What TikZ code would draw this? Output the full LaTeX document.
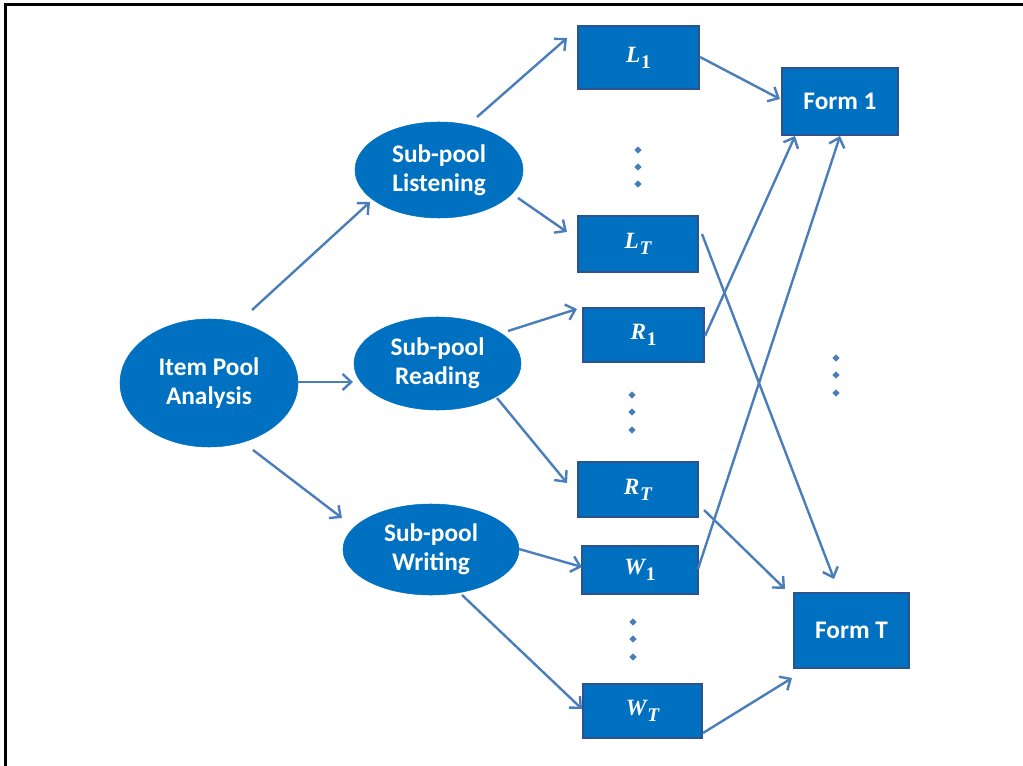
\documentclass[tikz,border=0pt]{standalone}
\usepackage{fontspec}
\setmainfont{Carlito}
\newfontfamily\lblfont{Liberation Serif}
\usetikzlibrary{arrows.meta,calc,shapes.geometric}
\definecolor{nodeblue}{HTML}{0070C0}
\definecolor{boxedge}{HTML}{2F528F}
\definecolor{arrowblue}{HTML}{4A7EBB}
\newcommand{\itemlbl}[2]{\raisebox{-2pt}{{\lblfont\bfseries\itshape\fontsize{17.5}{19}\selectfont #1}\kern0.5pt\raisebox{-4.7pt}{\lblfont\bfseries\fontsize{14.5}{16}\selectfont #2}}}
\begin{document}
\begin{tikzpicture}[x=0.75pt,y=-0.75pt,
  ell/.style={ellipse, fill=nodeblue, draw=nodeblue, line width=0.4pt, inner sep=0pt, text=white,
    align=center, font=\fontsize{19}{22}\selectfont\bfseries},
  box/.style={rectangle, fill=nodeblue, draw=boxedge, line width=0.9pt, inner sep=0pt, text=white,
    align=center, font=\fontsize{19}{22}\selectfont\bfseries},
  mbox/.style={box},
  arr/.style={draw=arrowblue, line width=1.8pt, -{Straight Barb[length=6.5pt,width=12pt]}},
  dotmark/.style={diamond, fill=arrowblue, inner sep=0pt, minimum size=5.5pt}]
\useasboundingbox (0,0) rectangle (1023,766);
\draw[line width=2.25pt] (5,766) -- (5,5) -- (1023,5);

% ellipses
\node[ell, minimum width=133.5pt, minimum height=96pt] (item) at (209,383) {Item Pool\\Analysis};
\node[ell, minimum width=126pt, minimum height=72pt] (listen) at (439,170) {Sub-pool\\Listening};
\node[ell, minimum width=125.25pt, minimum height=69.75pt] (read) at (437.5,363.5) {Sub-pool\\Reading};
\node[ell, minimum width=132pt, minimum height=68.25pt] (write) at (431,549.5) {Sub-pool\\Writing};

% item boxes
\node[mbox, minimum width=90.75pt, minimum height=47.25pt] (L1) at (638.5,57.5) {\itemlbl{L}{1}};
\node[mbox, minimum width=90pt, minimum height=42pt] (LT) at (638,244) {\itemlbl{L}{\itshape T}};
\node[mbox, minimum width=90.75pt, minimum height=40.5pt] (R1) at (643.5,335) {\itemlbl{R}{1}};
\node[mbox, minimum width=90pt, minimum height=41.25pt] (RT) at (638,489.5) {\itemlbl{R}{\itshape T}};
\node[mbox, minimum width=87pt, minimum height=36pt] (W1) at (640,570) {\itemlbl{W}{1}};
\node[mbox, minimum width=89.25pt, minimum height=40.5pt] (WT) at (642.5,711) {\itemlbl{W}{\itshape T}};

% forms
\node[box, minimum width=87pt, minimum height=50.25pt] (F1) at (840,101.5) {Form 1};
\node[box, minimum width=86.25pt, minimum height=56.25pt] (FT) at (851.5,630.5) {Form T};

% dots
\node[dotmark] (dl1) at (638,150) {};
\node[dotmark] (dl2) at (638,167) {};
\node[dotmark] (dl3) at (638,184) {};
\node[dotmark] (dr1) at (632,395) {};
\node[dotmark] (dr2) at (632,412) {};
\node[dotmark] (dr3) at (632,430) {};
\node[dotmark] (dw1) at (633,622) {};
\node[dotmark] (dw2) at (633,639) {};
\node[dotmark] (dw3) at (633,657) {};
\node[dotmark] (df1) at (836,358) {};
\node[dotmark] (df2) at (836,375) {};
\node[dotmark] (df3) at (836,393) {};

% connectors
\draw[arr] ($(item)+(43,-73)$) -- ($(listen)+(-69,32)$);
\draw[arr] ($(item)+(88,-1)$) -- ($(read)+(-84.5,18.5)$);
\draw[arr] ($(item)+(44,67)$) -- ($(write)+(-89,-31.5)$);
\draw[arr] ($(listen)+(38,-53)$) -- ($(L1)+(-71.5,-19.5)$);
\draw[arr] ($(listen)+(79,28)$) -- ($(LT)+(-71,-12)$);
\draw[arr] ($(read)+(70.5,-32.5)$) -- ($(R1)+(-66.5,-26)$);
\draw[arr] ($(read)+(59.5,34.5)$) -- ($(RT)+(-71,-6.5)$);
\draw[arr] ($(write)+(88,-0.5)$) -- ($(W1)+(-58,-3)$);
\draw[arr] ($(write)+(31,45.5)$) -- ($(WT)+(-60.5,-2)$);
\draw[arr] ($(L1)+(61.5,-0.5)$) -- ($(F1)+(-60,-2.5)$);
\draw[arr] ($(LT)+(64,-10)$) -- ($(FT)+(-17.5,-51.5)$);
\draw[arr] ($(R1)+(61.5,1)$) -- ($(F1)+(-45,34.5)$);
\draw[arr] ($(RT)+(66,20.5)$) -- ($(FT)+(-66.5,-41.5)$);
\draw[arr] ($(W1)+(58,-1)$) -- ($(F1)+(0,34.5)$);
\draw[arr] ($(WT)+(60.5,22)$) -- ($(FT)+(-59.5,47.5)$);
\end{tikzpicture}
\end{document}
